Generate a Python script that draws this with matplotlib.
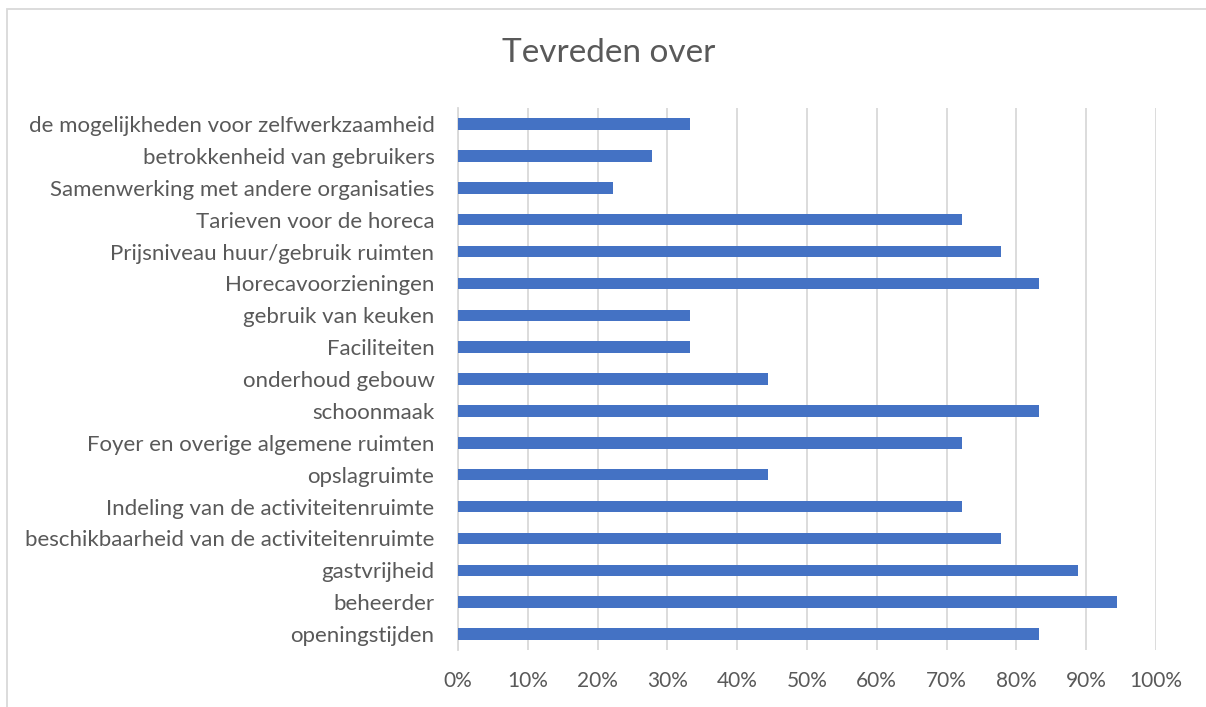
import matplotlib
matplotlib.use('Agg')
import matplotlib.pyplot as plt
from matplotlib.patches import Rectangle
from matplotlib.ticker import FuncFormatter

plt.rcParams['font.family'] = ['Lato', 'DejaVu Sans']

# categories from top to bottom as shown
labels = ['de mogelijkheden voor zelfwerkzaamheid',
          'betrokkenheid van gebruikers',
          'Samenwerking met andere organisaties',
          'Tarieven voor de horeca',
          'Prijsniveau huur/gebruik ruimten',
          'Horecavoorzieningen',
          'gebruik van keuken',
          'Faciliteiten',
          'onderhoud gebouw',
          'schoonmaak',
          'Foyer en overige algemene ruimten',
          'opslagruimte',
          'Indeling van de activiteitenruimte',
          'beschikbaarheid van de activiteitenruimte',
          'gastvrijheid',
          'beheerder',
          'openingstijden']
values = [0.333, 0.278, 0.222, 0.722, 0.778, 0.833, 0.333, 0.333, 0.444,
          0.833, 0.722, 0.444, 0.722, 0.778, 0.889, 0.944, 0.833]

text_col = '#595959'

fig = plt.figure(figsize=(12.06, 7.07), dpi=100)
ax = fig.add_axes([0.3798, 0.0806, 0.5787, 0.7664])

y = list(range(len(labels)))[::-1]
ax.barh(y, values, height=0.36, color='#4472C4', zorder=3)

ax.set_xlim(0, 1)
ax.set_ylim(-0.5, len(labels) - 0.5)
ax.set_xticks([i / 10 for i in range(11)])
ax.xaxis.set_major_formatter(FuncFormatter(lambda v, p: f'{v * 100:.0f}%'))
ax.set_yticks(y)
ax.set_yticklabels(labels)
ax.tick_params(axis='y', length=0, labelsize=16, colors=text_col, pad=17)
ax.tick_params(axis='x', length=0, labelsize=15, colors=text_col, pad=15)
ax.grid(axis='x', color='#D9D9D9', linewidth=1.3, zorder=0)
for s in ['top', 'right', 'bottom']:
    ax.spines[s].set_visible(False)
ax.spines['left'].set_color('#D9D9D9')
ax.spines['left'].set_linewidth(1.3)

fig.text(0.505, 0.925, 'Tevreden over', ha='center', va='center', fontsize=24, color=text_col)

# chart border
fig.patches.append(Rectangle((7 / 1206, -0.01), 1.02, 1 - 9 / 707 + 0.01, transform=fig.transFigure,
                             fill=False, edgecolor='#D9D9D9', linewidth=1.3))

fig.savefig('out.png', dpi=100)
